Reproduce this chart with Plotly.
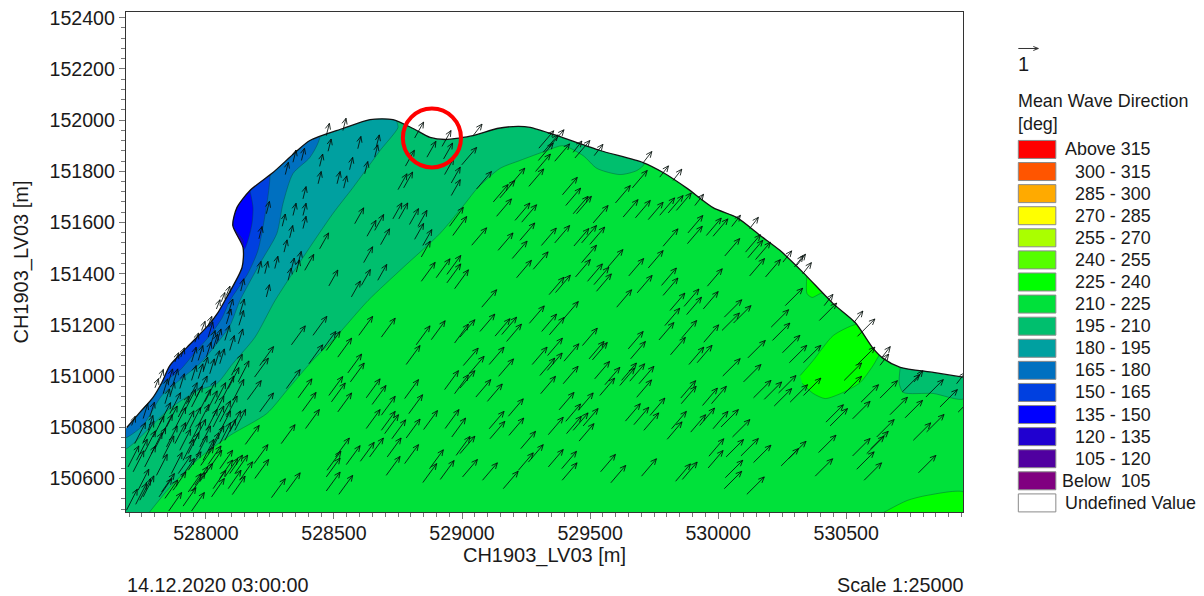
import numpy as np
import plotly.graph_objects as go

# ---------- map extent (metres) ----------
x_range = [527688, 530956]
y_range = [150469, 152422]

# ---------- contour boundaries (metres) ----------
coast = [(527691,150799),(527742,150858),(527793,150916),(527828,150975),(527859,151041),(527926,151112),
 (528008,151197),(528047,151248),(528074,151295),(528141,151424),(528145,151502),(528105,151588),(528121,151658),
 (528172,151725),(528262,151795),(528348,151873),(528406,151920),(528535,151967),(528641,152002),(528730,152002),
 (528809,151967),(528875,151932),(528934,151924),(529043,151939),(529137,151967),(529219,151975),(529266,151971),
 (529371,151939),(529539,151881),(529707,151834),(529785,151795),(529879,151733),(529980,151658),(530074,151619),
 (530164,151549),(530242,151490),(530332,151404),(530449,151283),(530535,151209),(530605,151108),(530644,151069),
 (530711,151034),(530840,151014),(530960,150995)]

z195 = [(527773,150460),(527859,150565),(527977,150682),(528094,150768),(528238,150854),(528316,150944),(528406,151049),
 (528512,151158),(528633,151295),(528770,151424),(528914,151557),(529012,151674),(529059,151733),(529148,151811),
 (529226,151842),(529332,151881),(529394,151900),(529473,151861),(529527,151811),(529617,151787),(529683,151803),
 (529715,151834),(529715,152400),(527600,152400),(527600,150460)]
z180 = [(527600,150690),(527691,150717),(527859,150873),(527969,150944),(528043,150971),(528105,151049),(528191,151151),
 (528270,151295),(528379,151463),(528496,151635),(528574,151736),(528680,151881),(528750,151971),(528746,151994),
 (528746,152400),(527600,152400)]
z165 = [(527600,150730),(527691,150760),(527754,150807),(527828,150924),(527906,150991),(527977,151049),(528043,151127),
 (528094,151197),(528133,151295),(528211,151440),(528277,151557),(528301,151674),(528340,151791),(528406,151854),
 (528445,151932),(528445,152400),(527600,152400)]
z150 = [(527820,150960),(527832,150975),(527898,151022),(527957,151092),(528016,151159),(528062,151225),(528094,151295),
 (528164,151401),(528203,151490),(528234,151647),(528250,151775),(528250,152400),(527688,152400)]
z135 = [(528172,151725),(528184,151658),(528180,151596),(528164,151529),(528145,151490),(528000,151490),(528000,151725)]
z120 = [(528105,151580),(528145,151529),(528141,151502),(528000,151502),(528000,151580)]
patch_east195 = [(530711,151034),(530707,150971),(530723,150936),(530840,150932),(530960,150912),(530960,151100),(530711,151100)]
patch_mid225 = [(530320,151002),(530371,151061),(530449,151158),(530535,151201),(530600,151200),(530660,151120),(530633,151088),
 (530605,151041),(530555,150975),(530488,150936),(530418,150912),(530371,150932),(530328,150971)]
patch_small225 = [(530347,151400),(530347,151322),(530367,151307),(530398,151322),(530430,151330)]
patch_south225 = [(530633,150460),(530738,150514),(530816,150534),(530960,150546),(530960,150460)]

# ---------- wave vectors: tail positions (metres) and vector per group ----------
centre_vec = (58, 68)
centre_tails = [(529077,151269),(528992,151152),(529070,151174),(529129,151156),(529155,151162),(529174,151135),(529263,151206),
 (529311,151174),(529341,151161),(529396,151223),(529604,151269),(529812,151256),(529867,151272),(529877,151240),(529942,151262),
 (529792,151197),(529769,151141),(529858,151149),(529944,151132),(529814,151083),(529886,151045),(529918,151052),(529005,151041),
 (529106,151045),(529028,151009),(529143,150999),(529274,151045),(529334,151080),(529304,151002),(529333,151022),(529398,151058),
 (529470,151119),(529496,151067),(529509,151063),(529649,151106),(529658,151067),(529518,150989),(529558,150966),(528992,150953),
 (529054,150918),(529099,150901),(529307,150931),(529395,150970),(529538,150924),(529616,150963),(529623,150983),(529655,150980),
 (529691,150970),(529682,150917),(529734,150846),(529854,150914),(529856,150892),(529939,150885),(529974,150892),(529106,150794),
 (529181,150843),(529109,150755),(529183,150768),(529379,150868),(529405,150823),(529454,150866),(529473,150805),(529337,150771),
 (529408,150775),(529434,150788),(529457,150746),(529638,150824),(529671,150810),(529710,150788),(529818,150794),(529801,150753),
 (529893,150781),(529928,150807),(529980,150794),(529229,150716),(529259,150664),(529337,150645),(529389,150638),(529391,150593),
 (529541,150626),(529581,150583),(529701,150609),(529834,150589),(529860,150596),(529964,150687),(529961,150641),(529002,150606),
 (529080,150593),(529161,150560),(529220,150632),(528992,150697),
 (529122,151680),(529148,151696),(529135,151624),(529187,151744),(529207,151608),(529233,151601),(529261,151741),(529287,151799),
 (529298,151842),(529300,151890),(529317,151874),(529340,151894),(529057,151731),(528999,151825),(529362,151839),(529441,151852),
 (529392,151708),(529405,151666),(529434,151634),(529447,151634),(529599,151676),(529629,151621),(529677,151618),(529727,151611),
 (529772,151628),(529805,151637),(529837,151647),(529665,151735),(529512,151598),(529437,151508),(529467,151520),(529038,151511),
 (529141,151491),(529196,151459),(529226,151530),(529310,151510),(529362,151520),(529499,151514),(529467,151443),(529443,151387),
 (529490,151370),(529515,151357),(529525,151331),(529570,151426),(529213,151384),(529278,151417),(529340,151318),(529365,151326),
 (529651,151391),(529727,151422),(529779,151354),(529785,151315),(529785,151507),(529882,151559),(529880,151517),(529954,151549),
 (529980,151546),(530026,151469),(530107,151484),(530116,151462),(530146,151455),(530123,151391),(530185,151387),(529958,151351),
 (529684,151325)]
east_vec = (68, 68)
east_tails = [(530024,151230),(530015,151178),(530060,151207),(530262,151275),(530207,151191),(530212,151139),(530251,151091),
 (530278,151052),(530116,151071),(530018,151000),(530099,150977),(530333,151052),(530395,151217),(530544,151155),(530544,151045),
 (530492,150983),(530492,150931),(530281,150898),(530333,150924),(530219,150883),(530138,150915),(530180,150909),(530236,150934),
 (530011,150801),(530056,150762),(530031,150684),(530028,150603),(530024,150560),(530089,150688),(530138,150662),(530112,150538),
 (530246,150649),(530275,150677),(530392,150701),(530379,150609),(530421,150820),(530437,150805),(530525,150833),(530558,150898),
 (530632,150914),(530671,150849),(530730,150837),(530619,150762),(530596,150716),(530580,150697),(530525,150688),(530541,150636),
 (530570,150593),(530762,150749),(530814,150782),(530782,150622),(530719,150938),(530811,150918),(530866,150879),(530937,150859)]
coast_east_vec = (34, 44)
coast_east_tails = [(529434,151874),(529516,151861),(529707,151833),(529772,151777),(529824,151764),(529909,151666),(530053,151584),
 (530123,151576),(530298,151426),(530253,151445),(530307,151432),(530330,151399),(530531,151210),(530638,151071),(530632,151042),
 (530765,150977),(530414,151275),(530931,150970),(529044,151940)]
west_vec = (54, 74)
west_tails = [(528821,151122),(528880,151142),(528971,151129),(528782,151045),(528932,150947),(528971,150931),(528776,150912),
 (528792,150853),(528626,150915),(528649,150889),(528480,150924),(528515,150860),(528490,150899),(528554,151012),(528564,150977),
 (528515,151074),(528402,151048),(528360,150915),(528376,150862),(528389,150795),(528334,151122),(528418,151159),(528453,151100),
 (528470,151100),(528597,151159),(528685,151152),(528314,150951),(528210,150860),(528162,150908),(528210,151041),(528190,150996),
 (528154,150733),(528188,150658),(528294,150736),(528191,150600),(528256,150525),(528314,150548),(528470,150551),(528519,150538),
 (528470,150606),(528473,150632),(528506,150684),(528548,150654),(528603,150667),(528639,150684),(528704,150612),(528708,150684),
 (528776,150658),(528726,150755),(528782,150758),(528850,150791),(528934,150795),(528960,150762),(528847,150584),(528915,150596),
 (528873,150638),(528977,150690),(528685,150788),(528698,150775),(528626,150795),(528685,150847),
 (528841,151370),(528899,151384),(528941,151397),(528941,151364),(528971,151341),(528964,151549),(528951,151585)]
southwest_vec = (50, 72)
southwest_tails = [(527855,150473),(527911,150492),(527944,150473),(527947,150551),(527931,150547),(528022,150528),(528028,150560),
 (527980,150651),(528009,150655),(528012,150638),(528054,150638),(528054,150600),(528087,150560),(528103,150537),(528132,150593),
 (528074,150606),(528093,150619),(528113,150619),(527817,150528),(527827,150547),(527840,150522),(527872,150554),(527892,150619),
 (527905,150606),(527931,150632),(527957,150574),(527976,150587)]
dense_vec = (42, 82)
dense_tails = [(527726,150499),(527742,150515),(527755,150528),(527735,150554),(527716,150626),(527761,150645),(527807,150612),
 (527690,150476),(527833,150684),(527865,150619),(527787,150697),(527801,150716),(527846,150723),(527879,150736),(527898,150710),
 (527911,150671),(527931,150697),(527963,150684),(527989,150671),(527937,150736),(527957,150749),(527976,150723),(528009,150697),
 (528028,150723),(528054,150736),(528074,150749),(528093,150782),(528113,150788),(528054,150782),(528028,150801),(528002,150788),
 (527970,150807),(527937,150795),(527911,150782),(527879,150795),(527846,150801),(527827,150768),(527859,150853),(527892,150840),
 (527918,150866),(527944,150879),(527976,150866),(528002,150860),(528035,150892),(528067,150918),(528087,150951),(528100,151003),
 (528126,150977),(528106,150905),(528028,150840),(528054,150821),(528080,150840),(527996,150899),(527963,150918),(527924,150892),
 (527761,150704),(527696,150645),(527794,150762),(527755,150742),(527722,150736),(527820,150814),(527729,150671)]
blue_vec = (18, 58)
blue_tails = [(527775,150788),(527755,150834),(527781,150840),(527840,150892),(527859,150918),(527833,150931),(527898,150951),
 (527944,150983),(527970,150990),(527989,151016),(528015,151009),(528035,151041),(528054,151048),(528002,151074),(528028,151106),
 (528041,151126),(528009,151152),(528074,151139),(528093,151100),(528126,151126),(528080,151204),(528129,151198),(528132,151243),
 (528087,151243),(528018,151120),(527970,151061),(527944,151055),(527872,150970),(527852,150970)]
coast_west_vec = (14, 36)
coast_west_tails = [(527801,150954),(527820,150990),(527879,151055),(527902,151074),(527957,151132),(527983,151178),(528009,151197),
 (528041,151262),(527710,150807),(528080,151315),(528060,151290)]
teal_vec = (12, 48)
teal_tails = [(528477,151878),(528438,151751),(528444,151819),(528379,151692),(528340,151627),(528379,151627),(528379,151576),
 (528298,151585),(528327,151540),(528305,151484),(528333,151413),(528353,151406),(528360,151439),(528203,151400),(528230,151400),
 (528269,151420),(528236,151309),(528136,151332),(528340,151835),(528373,151842),(528310,151787),(528236,151634),(528207,151536),
 (528593,151888),(528659,151855),(528665,151894),(528561,151806),(528512,151751),(528538,151734),(528620,151790),(528321,151374),
 (528470,151939),(528535,151959)]
north_vec = (35, 62)
north_tails = [(528581,151595),(528730,151614),(528753,151614),(528629,151546),(528659,151569),(528682,151513),(528616,151443),
 (528480,151352),(528607,151354),(528671,151374),(528568,151309),(528444,151497),(528386,151413),(528750,151728),(528772,151735),
 (528779,151820),(528795,151592),(528828,151585),(528815,151534),(528847,151510),(528841,151465),(528863,151855),(528928,151848),
 (528932,151787),(528958,151754),(528958,151705),(528815,151930),(528922,151897)]

vector_groups = [(centre_tails, centre_vec), (east_tails, east_vec), (coast_east_tails, coast_east_vec), (west_tails, west_vec),
                 (southwest_tails, southwest_vec), (dense_tails, dense_vec), (blue_tails, blue_vec),
                 (coast_west_tails, coast_west_vec), (teal_tails, teal_vec), (north_tails, north_vec)]

# ---------- legend ----------
legend_labels = ["Above 315", "300 - 315", "285 - 300", "270 - 285", "255 - 270", "240 - 255", "225 - 240", "210 - 225",
                 "195 - 210", "180 - 195", "165 - 180", "150 - 165", "135 - 150", "120 - 135", "105 - 120",
                 "Below\u00a0 105", "Undefined Value"]
legend_colors = ["#FF0000", "#FF5500", "#FFAA00", "#FFFF00", "#AAFF00", "#55FF00", "#00FF00", "#00E13A",
                 "#00BF6E", "#00A0A0", "#0070C0", "#0040E0", "#0000FF", "#2000D0", "#5000A0", "#800080", "#FFFFFF"]
col = dict(zip(legend_labels, legend_colors))

FONT = "Liberation Sans"
INK = "#1a1a1a"
L, R, T, B = 126.0, 962.7, 11.5, 511.7
W, H = 1204, 596
def px(v): return (v - L) / (R - L)
def py(v): return (B - v) / (B - T)

fig = go.Figure()

def poly(pts, color, line="rgba(0,70,50,0.55)", shape="spline"):
    a = np.array(pts)
    fig.add_trace(go.Scatter(x=a[:, 0], y=a[:, 1], mode="lines", fill="toself", fillcolor=color,
                             line=dict(color=line, width=0.7, shape=shape, smoothing=0.7),
                             hoverinfo="skip", showlegend=False))

poly([(527600,150400),(531100,150400),(531100,152500),(527600,152500)], col["210 - 225"], col["210 - 225"], "linear")
poly(z195, col["195 - 210"])
poly(z180, col["180 - 195"])
poly(z165, col["165 - 180"])
poly(z150, col["150 - 165"])
poly(z135, col["135 - 150"])
poly(z120, col["120 - 135"])
poly(patch_east195, col["195 - 210"])
poly(patch_mid225, col["225 - 240"])
poly(patch_small225, col["225 - 240"])
poly(patch_south225, col["225 - 240"])

# white area outside the coast
c = np.array(coast)
sea_x = [527300, 527600, *c[:, 0], 531050, 531400, 531400, 527300]
sea_y = [150450, 150700, *c[:, 1], 150985, 150985, 152900, 152900]
fig.add_trace(go.Scatter(x=sea_x, y=sea_y, mode="lines", fill="toself", fillcolor="white",
                         line=dict(color="rgba(255,255,255,0)", width=0, shape="spline", smoothing=0.7),
                         hoverinfo="skip", showlegend=False))
fig.add_trace(go.Scatter(x=c[:, 0], y=c[:, 1], mode="lines", line=dict(color="#111", width=1.3, shape="spline", smoothing=0.7),
                         hoverinfo="skip", showlegend=False))

# vectors
ax, ay = [], []
HEAD = 25.0
ANG = np.radians(24)
for tails, (u, v) in vector_groups:
    th = np.arctan2(v, u)
    for x0, y0 in tails:
        x1, y1 = x0 + u, y0 + v
        ax += [x0, x1, x1 - HEAD * np.cos(th - ANG), None, x1, x1 - HEAD * np.cos(th + ANG), None]
        ay += [y0, y1, y1 - HEAD * np.sin(th - ANG), None, y1, y1 - HEAD * np.sin(th + ANG), None]
fig.add_trace(go.Scatter(x=ax, y=ay, mode="lines", line=dict(color="rgba(5,15,10,0.85)", width=1.0),
                         hoverinfo="skip", showlegend=False, connectgaps=False))

shapes = [dict(type="circle", xref="x", yref="y", x0=528769, x1=528996, y0=151815, y1=152045,
               line=dict(color="#FF0000", width=4))]
ann = []
def text(x, y, s, size=17.9, anchor="left", angle=0):
    ann.append(dict(text=s, xref="paper", yref="paper", x=px(x), y=py(y), xanchor=anchor, yanchor="middle",
                    showarrow=False, borderpad=0, borderwidth=0, textangle=angle,
                    font=dict(family=FONT, size=size, color=INK)))

# legend rows
for i, (lab, colr) in enumerate(zip(legend_labels, legend_colors)):
    y0 = 140 + i * 22.1
    shapes.append(dict(type="rect", xref="paper", yref="paper", x0=px(1018), x1=px(1055.5), y0=py(y0), y1=py(y0 + 18),
                       fillcolor=colr, line=dict(color="#8a8a8a", width=1)))
    if lab == "Undefined Value":
        text(1065, y0 + 9, lab)
    else:
        text(1151, y0 + 9, lab, anchor="right")
text(1018, 101, "Mean Wave Direction")
text(1018, 124, "[deg]")
text(1018, 64, "1", size=20)
shapes.append(dict(type="line", xref="paper", yref="paper", x0=px(1018), x1=px(1038), y0=py(48), y1=py(48),
                   line=dict(color="#333", width=1)))
shapes.append(dict(type="path", xref="paper", yref="paper",
                   path=f"M {px(1033)} {py(46)} L {px(1038)} {py(48)} L {px(1033)} {py(50)}",
                   line=dict(color="#333", width=1)))
text(127, 584.4, "14.12.2020 03:00:00", size=19.8)
text(962.5, 584.4, "Scale 1:25000", size=19.8, anchor="right")

axis_common = dict(showgrid=False, zeroline=False, showline=True, mirror=True, linecolor="#333", linewidth=1.3,
                   ticks="outside", ticklen=6, tickcolor="#777", tickwidth=1, tickformat="d",
                   tickfont=dict(family=FONT, size=19.6, color=INK))
fig.update_layout(
    width=W, height=H, autosize=False, plot_bgcolor="white", paper_bgcolor="white",
    margin=dict(l=L, r=W - R, t=T, b=H - B, pad=0), showlegend=False,
    shapes=shapes, annotations=ann, hovermode=False,
    xaxis=dict(range=x_range, dtick=500, tick0=528000, ticklabelstandoff=-3, automargin="height", **axis_common,
               minor=dict(dtick=50, tick0=528000, ticks="outside", ticklen=4, tickcolor="#777", tickwidth=1),
               title=dict(text="CH1903_LV03 [m]", font=dict(family=FONT, size=20, color=INK), standoff=5)),
    yaxis=dict(range=y_range, dtick=200, tick0=150600, automargin=False, **axis_common,
               minor=dict(dtick=40, tick0=150600, ticks="outside", ticklen=4, tickcolor="#777", tickwidth=1),
               title=dict(text="CH1903_LV03 [m]", font=dict(family=FONT, size=20, color=INK))),
)
fig.write_html("out.html", config=dict(displayModeBar=False), post_script="document.body.style.margin='0';document.body.style.overflow='hidden';")
